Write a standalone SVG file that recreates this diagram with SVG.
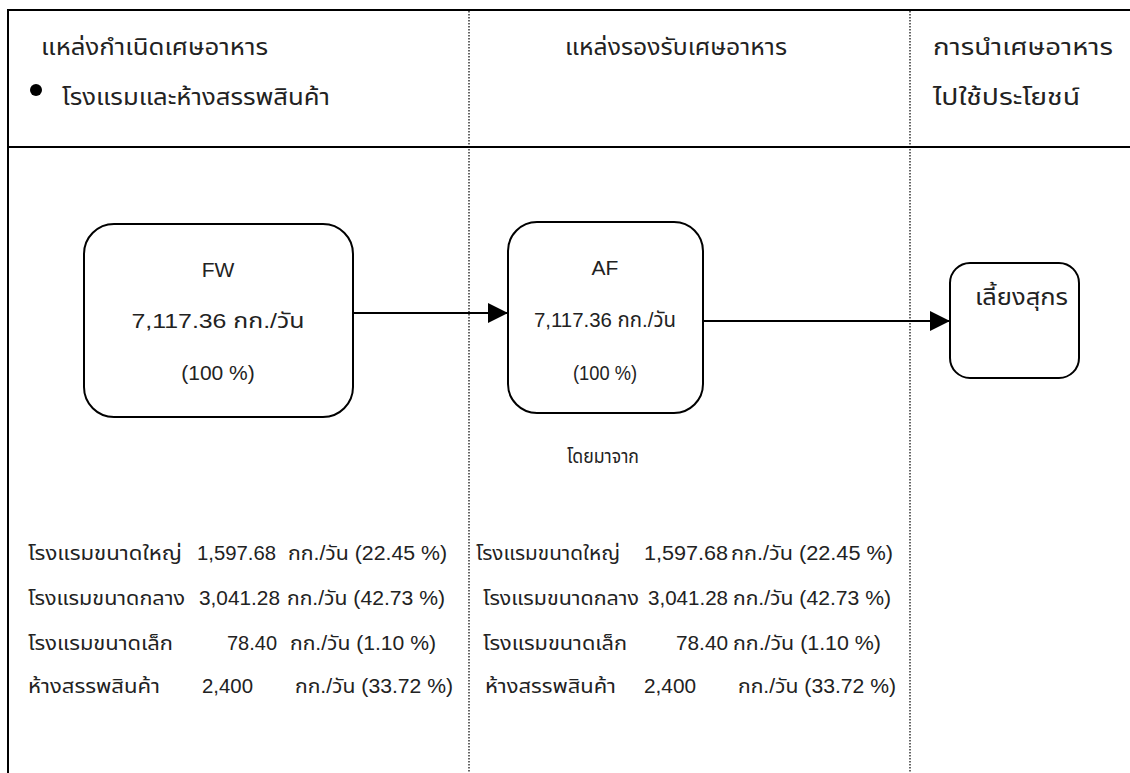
<svg xmlns="http://www.w3.org/2000/svg" width="1130" height="773" viewBox="0 0 1130 773">
  <style>
    .t { font-family: "Liberation Sans", "Noto Sans Thai", "Noto Sans", "DejaVu Sans", sans-serif; font-size: 21px; fill: #222; }
    .h { font-size: 23px; }
    .s { font-size: 20px; }
    .c { text-anchor: middle; }
    .frame { stroke: #000; stroke-width: 2; fill: none; }
    .dot { stroke: #000; stroke-width: 1.2; stroke-dasharray: 1.5 1.5; fill: none; }
    .node { fill: #fff; stroke: #000; stroke-width: 2; }
    .conn { stroke: #000; stroke-width: 2; fill: none; }
  </style>
  <defs>
    <marker id="arr" markerWidth="20" markerHeight="20" refX="20" refY="10" orient="auto" markerUnits="userSpaceOnUse">
      <path d="M0,0 L20,10 L0,20 Z" fill="#000"/>
    </marker>
  </defs>
  <rect width="1130" height="773" fill="#fff"/>

  <g id="frame">
    <line class="frame" x1="8" y1="10" x2="1130" y2="10"/>
    <line class="frame" x1="8" y1="9" x2="8" y2="773"/>
    <line class="frame" x1="8" y1="147" x2="1130" y2="147"/>
    <line class="dot" x1="469" y1="11" x2="469" y2="773"/>
    <line class="dot" x1="910" y1="11" x2="910" y2="773"/>
  </g>

  <g id="headers">
    <text class="t h" x="41" y="55" textLength="227" lengthAdjust="spacingAndGlyphs">แหล่งกำเนิดเศษอาหาร</text>
    <circle cx="36" cy="90" r="6" fill="#000"/>
    <text class="t h" x="62" y="105" textLength="268" lengthAdjust="spacingAndGlyphs">โรงแรมและห้างสรรพสินค้า</text>
    <text class="t h" x="565" y="55" textLength="222" lengthAdjust="spacingAndGlyphs">แหล่งรองรับเศษอาหาร</text>
    <text class="t h" x="933" y="55" textLength="180" lengthAdjust="spacingAndGlyphs">การนำเศษอาหาร</text>
    <text class="t h" x="933" y="105" textLength="147" lengthAdjust="spacingAndGlyphs">ไปใช้ประโยชน์</text>
  </g>

  <g id="connectors">
    <line class="conn" x1="353" y1="313" x2="508" y2="313" marker-end="url(#arr)"/>
    <line class="conn" x1="703" y1="321" x2="950" y2="321" marker-end="url(#arr)"/>
  </g>

  <g id="node-fw">
    <rect class="node" x="84" y="224" width="269" height="193" rx="30" ry="30"/>
    <text class="t c" x="218" y="277">FW</text>
    <text class="t c" x="218" y="328" textLength="173" lengthAdjust="spacingAndGlyphs">7,117.36 กก./วัน</text>
    <text class="t c" x="218" y="380">(100 %)</text>
  </g>

  <g id="node-af">
    <rect class="node" x="508" y="222" width="195" height="191" rx="29" ry="29"/>
    <text class="t c" x="605" y="275">AF</text>
    <text class="t c" x="605" y="327" textLength="142" lengthAdjust="spacingAndGlyphs">7,117.36 กก./วัน</text>
    <text class="t c" x="605" y="380" textLength="64" lengthAdjust="spacingAndGlyphs">(100 %)</text>
  </g>

  <g id="node-pig">
    <rect class="node" x="950" y="263" width="129" height="115" rx="20" ry="20"/>
    <text class="t h" x="975" y="305" textLength="93" lengthAdjust="spacingAndGlyphs">เลี้ยงสุกร</text>
  </g>

  <g id="label-from">
    <text class="t s" x="567" y="463" textLength="72" lengthAdjust="spacingAndGlyphs">โดยมาจาก</text>
  </g>

  <g id="list-source">
    <text class="t s" x="28" y="560" textLength="154" lengthAdjust="spacingAndGlyphs">โรงแรมขนาดใหญ่</text>
    <text class="t s" x="197" y="560" textLength="79" lengthAdjust="spacingAndGlyphs">1,597.68</text>
    <text class="t s" x="288" y="560" textLength="159" lengthAdjust="spacingAndGlyphs">กก./วัน (22.45 %)</text>

    <text class="t s" x="28" y="605" textLength="157" lengthAdjust="spacingAndGlyphs">โรงแรมขนาดกลาง</text>
    <text class="t s" x="199" y="605" textLength="81" lengthAdjust="spacingAndGlyphs">3,041.28</text>
    <text class="t s" x="287" y="605" textLength="158" lengthAdjust="spacingAndGlyphs">กก./วัน (42.73 %)</text>

    <text class="t s" x="28" y="650" textLength="145" lengthAdjust="spacingAndGlyphs">โรงแรมขนาดเล็ก</text>
    <text class="t s" x="227" y="650" textLength="50" lengthAdjust="spacingAndGlyphs">78.40</text>
    <text class="t s" x="290" y="650" textLength="146" lengthAdjust="spacingAndGlyphs">กก./วัน (1.10 %)</text>

    <text class="t s" x="28" y="693" textLength="132" lengthAdjust="spacingAndGlyphs">ห้างสรรพสินค้า</text>
    <text class="t s" x="202" y="693" textLength="51" lengthAdjust="spacingAndGlyphs">2,400</text>
    <text class="t s" x="295" y="693" textLength="158" lengthAdjust="spacingAndGlyphs">กก./วัน (33.72 %)</text>
  </g>

  <g id="list-receiver">
    <text class="t s" x="476" y="560" textLength="144" lengthAdjust="spacingAndGlyphs">โรงแรมขนาดใหญ่</text>
    <text class="t s" x="644" y="560" textLength="84" lengthAdjust="spacingAndGlyphs">1,597.68</text>
    <text class="t s" x="731" y="560" textLength="162" lengthAdjust="spacingAndGlyphs">กก./วัน  (22.45 %)</text>

    <text class="t s" x="483" y="605" textLength="156" lengthAdjust="spacingAndGlyphs">โรงแรมขนาดกลาง</text>
    <text class="t s" x="648" y="605" textLength="80" lengthAdjust="spacingAndGlyphs">3,041.28</text>
    <text class="t s" x="733" y="605" textLength="158" lengthAdjust="spacingAndGlyphs">กก./วัน (42.73 %)</text>

    <text class="t s" x="483" y="650" textLength="144" lengthAdjust="spacingAndGlyphs">โรงแรมขนาดเล็ก</text>
    <text class="t s" x="676" y="650" textLength="52" lengthAdjust="spacingAndGlyphs">78.40</text>
    <text class="t s" x="733" y="650" textLength="148" lengthAdjust="spacingAndGlyphs">กก./วัน (1.10 %)</text>

    <text class="t s" x="485" y="693" textLength="131" lengthAdjust="spacingAndGlyphs">ห้างสรรพสินค้า</text>
    <text class="t s" x="644" y="693" textLength="52" lengthAdjust="spacingAndGlyphs">2,400</text>
    <text class="t s" x="738" y="693" textLength="158" lengthAdjust="spacingAndGlyphs">กก./วัน (33.72 %)</text>
  </g>
</svg>
